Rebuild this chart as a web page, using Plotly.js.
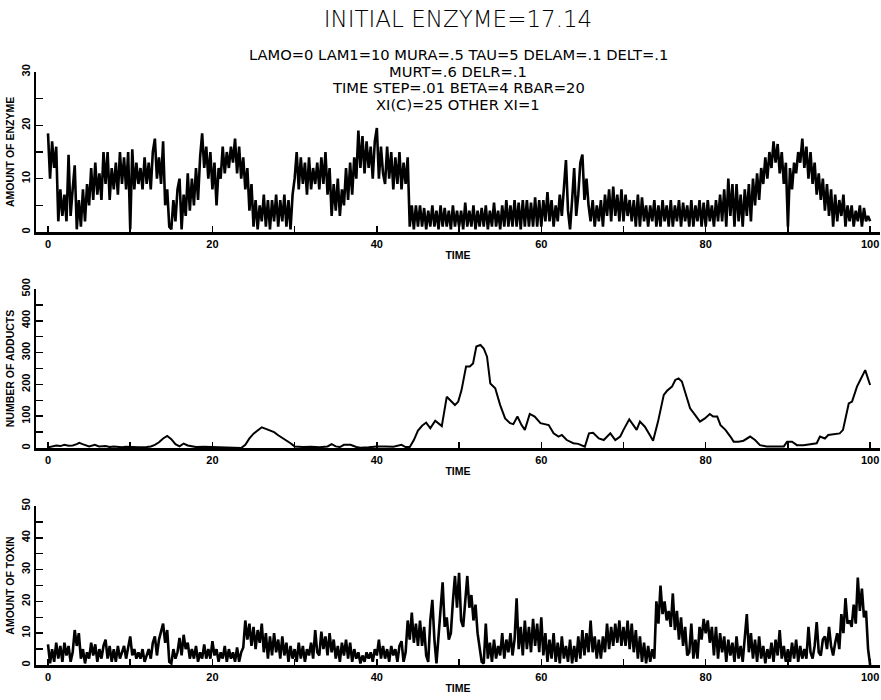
<!DOCTYPE html>
<html>
<head>
<meta charset="utf-8">
<script src="https://cdn.plot.ly/plotly-3.0.1.min.js"></script>
<style>html,body{margin:0;padding:0;background:#fff;}#chart{width:881px;height:700px;}</style>
</head>
<body>
<div id="chart"></div>
<script>
// ---------- DATA ----------
const timeStep = 0.25;   // sampling used for the two noisy traces (TIME units)

// Amount of enzyme, 4 readings per time unit (t = k, k+.25, k+.5, k+.75)
const enzyme = [
  18.5,10,17,12,   16,2,8,3,       7,2,14.5,3,     8,12.5,0.5,6,   1,8,2,9,
  5,12,6,13,       7,11,6,15,      9,15,6,12,      8,13,7,15,      9,14,8,15,
  0.5,15.5,8,13,   9,12,8,14,      9,13,8,15,      17.5,10,14,9,   17,5,8,1,
  0.5,6,2,8,       10,0.5,7,3,     11,4,10,5,      12,6,14,18.5,   12,16,10,15,
  8,13,5,12,       10,16,11,15,    12,16,13,17.5,  11,16,10,14,    8,12,4,9,
  1,6,0.5,5,       2,7,1,6,        0.5,6,2,7,      1,6,2,7,        1,6,0.5,7,
  10,15,8,14,      9,13,7,14,      8,12,9,13,      8,14,9,15,      7,12,3,9,
  4,10,3,8,        5,12,6,13,      7,14,10,19,     12,18,11,17,    12,16,10,17,
  19.5,10,16,11,   9,16,10,15,     8,14,9,15,      8,13,9,14,      1,5,0.5,5,
  1,5,1,4.5,       0.5,4,1,5,      1,4,0.5,5,      1,4.5,1,4,      0.5,5,1,4,
  1,4,0.5,5.5,     1,4,1,5,        0.5,4,1,4.5,    1,5,0.5,4,      1,5.5,1,4,
  0.5,5,1,6,       1,5,1,6,        1,5.5,0.5,6,    1,6,1,5.5,      1,6.5,1,6,
  1,6,2,7.5,       2,6,1,5,        2,7,3,8,        13.5,4,0.5,6,   12,3,7,13,
  14.5,6,10,5,     2,6,1,5,        2,6,1,7,        3,8,2,8.5,      3,7,2,8,
  2,7,3,6,         2,6,1,7,        1,6.5,2,5,      1,5,2,6,        1,5,1,6,
  2,5,1,6,         1,5,2,6,        1,5.5,2,5,      1,6,1,5,        2,6,1,5.5,
  1,6,2,5,         1,6,2,7,        2,8,1,10,       3,9,1,9,        2,7,1,8,
  3,9,2,10,        5,11,6,12,      9,14,10,15,     12,17,13,16.5,  11,15,9,13,
  1,12,8,13,       11,15,13,17.5,  12,16,10,15,    9,13,7,11,      6,10,4,9,
  3,8,1,7,         2,6,3,7,        1,5,2,5,        1,4,2,5,        1,4.5,2,3,
  2
];

// Amount of toxin, 4 readings per time unit
const toxin = [
  6.5,0.5,5,1,     7,2,6,1,        7,3,6,1,        4,11,6,10,      2,5,0.5,4,
  2,7,3,6.5,       1,5,2,6,        8,2,6,1,        5,1,6,2,        4,6,2,5,
  9,3,5,2,         4,2,5,1,        3,5,2,7,        9,3,8,10.5,     13,7,11,1,
  0.5,5,2,4,       8.5,3,9.5,5,    7,2,5,2,        6,1,4,2,        6.5,2,5,2,
  7.5,3,5,1,       4,2,6,1,        5,2,4,1,        5.5,1,4,5.5,    14,8,13,6,
  12,5,11,7,       13,4,10,2,      9,3,10,4,       8,2,9,3,        7,1,6,2,
  5,1,7,2,         6,1,5,3,        7,2,11,4,       3,10.5,5,9,     3,10,4,8,
  2,6,1,7,         3,8,2,7,        1,5,2,4,        0.5,3,1,4,      2,4,1,5,
  3,8,2,6,         2,5,1,6,        3,5,1,6,        7.5,1,4,14,     8,16.5,7,13,
  6,14,6,12,       3,1,14,20.5,    8,0.5,10,19,    26,12,15,8,     10,20,28,18,
  29,14,12,20,     28,18,22,14,    19,10,5,1,      0.5,13,2,7,     1,8,2,6,
  3,10,2,8,        4,10,3,8,       21,5,12,3,      14,5,12,4,      14.5,6,13,4,
  15,3,10,1,       8,2,10,1,       7,0.5,9,2,      6,1,8,0.5,      6,1,9,2,
  11,3,10,4,       14,4,9,2,       8,2,9,4,        13,5,12,6,      13,7,14,6,
  12,6,14,5,       13,4,11,2,      9,1,7,0.5,      6,1,5,2,        20,13,25,16,
  20,14,17,12,     22.5,11,17,8,   15,6,12,3,      4,13,2,8,       2,12,8,14.5,
  10,14,7,12,      3,12,2,10,      4,9,1,8,        3,7,1,9,        2,6,1,8,
  16,4,10,2,       8,1,9,2,        6,0.5,5,2,      7,1,8,3,        11,2,6,1,
  5,1,7,2,         8,1,6,2,        5,2,12,4,       2,6,13.5,4,     3,8,9,5,
  12,6,3,7,        10,5,16,10,     21,13,14,12,    19,13,27.5,17,  24,15,17,5,
  0
];

// Number of adducts (smooth trace): time / value pairs
const adductTime = [0,0.5,1,1.5,2,2.5,3,3.5,3.8,4.2,4.5,5,5.7,6.2,7,7.5,8,9,9.5,10,11,12,12.5,13,13.5,14,14.5,15,15.5,16,16.5,17,17.5,18,19,20,21,22,23,23.5,24,24.5,25,25.5,26,26.5,27,27.5,28,28.5,29,29.5,30,31,32,33,34,34.5,35,35.5,36,36.8,37.5,38,39,40,41,42,43,43.5,44,44.5,45,45.5,46,46.5,47.1,47.9,48.5,48.9,49.5,49.9,50.3,50.85,51.3,51.7,52.1,52.6,53.0,53.4,53.8,54.4,55.0,55.6,56.2,56.6,57.1,57.6,58.0,58.6,59.2,59.9,60.5,60.9,61.5,62.1,62.5,63.1,63.9,64.5,65.3,65.8,66.3,67.0,67.6,68.4,69.0,69.6,70.0,70.7,71.2,71.6,72.0,72.6,73.2,73.6,74.2,74.9,75.3,75.9,76.3,76.7,77.1,77.5,78.1,78.7,79.3,79.9,80.5,80.9,81.4,81.8,82.4,83.0,83.4,84.0,84.6,85.4,86.0,86.6,87.4,89.5,89.9,90.5,91.1,91.9,92.7,93.5,93.9,94.5,94.9,95.5,96.3,96.7,97.4,97.8,98.4,98.8,99.4,100];
const adducts = [2,5,8,6,10,7,8,12,16,12,10,5,10,5,6,3,5,2,4,3,2,3,5,10,18,30,38,28,12,5,14,8,5,3,4,3,2,3,2,0,10,30,45,55,65,60,55,50,40,32,25,15,5,3,4,2,5,12,5,3,10,10,3,1,2,5,5,4,10,3,3,25,55,70,80,62,86,69,161,151,135,146,182,256,256,266,319,324,313,287,203,188,135,93,78,75,99,72,57,107,99,78,75,72,46,36,41,25,15,13,4,46,48,30,25,46,25,36,57,90,72,57,83,67,41,23,83,167,180,193,214,219,209,172,125,104,83,93,107,99,99,72,57,36,20,20,23,36,25,9,5,5,20,20,9,9,13,15,36,30,41,44,46,57,140,146,193,214,245,198];

const xTickVals = [0,10,20,30,40,50,60,70,80,90,100];
const xTickText = ['0','','20','','40','','60','','80','','100'];
const enzTickVals = [0,5,10,15,20,25,30];
const enzTickText = ['0','','10','','20','','30'];
const addTickVals = [0,50,100,150,200,250,300,350,400,450,500];
const addTickText = ['0','','100','','200','','300','','400','','500'];
const toxTickVals = [0,5,10,15,20,25,30,35,40,45,50];
const toxTickText = ['0','','10','','20','','30','','40','','50'];

const titleText = 'INITIAL ENZYME=17.14';
const subtitleLines = [
  'LAMO=0 LAM1=10 MURA=.5 TAU=5 DELAM=.1 DELT=.1',
  'MURT=.6 DELR=.1',
  'TIME STEP=.01 BETA=4 RBAR=20',
  'XI(C)=25 OTHER XI=1'
];

// ---------- BUILD ----------
const tNoisy = enzyme.map((_, i) => i * timeStep);

const H = 700;
const boldFont = {family: 'Liberation Sans, Arial, sans-serif', size: 11, color: '#000', weight: 'bold'};
const titleFont = {family: 'Liberation Sans, Arial, sans-serif', size: 10.5, color: '#000', weight: 'bold'};

const traces = [
  {x: tNoisy, y: enzyme, xaxis: 'x', yaxis: 'y', type: 'scatter', mode: 'lines',
   line: {color: '#000', width: 2.6}, hoverinfo: 'skip'},
  {x: adductTime, y: adducts, xaxis: 'x2', yaxis: 'y2', type: 'scatter', mode: 'lines',
   line: {color: '#000', width: 2}, hoverinfo: 'skip'},
  {x: tNoisy, y: toxin, xaxis: 'x3', yaxis: 'y3', type: 'scatter', mode: 'lines',
   line: {color: '#000', width: 2.6}, hoverinfo: 'skip'}
];

function xAxis(anchor) {
  return {
    anchor: anchor, domain: [0, 1], range: [-1.46, 101.2],
    showline: true, linecolor: '#000', linewidth: 2.5,
    ticks: 'inside', ticklen: 6, tickwidth: 1.5, tickcolor: '#000',
    tickmode: 'array', tickvals: xTickVals, ticktext: xTickText,
    tickfont: boldFont, showgrid: false, zeroline: false,
    title: {text: 'TIME', font: titleFont, standoff: 3}
  };
}
function yAxis(anchor, domPx, range, tv, tt, label) {
  return {
    anchor: anchor, domain: [1 - domPx[1] / H, 1 - domPx[0] / H], range: range,
    showline: true, linecolor: '#000', linewidth: 2,
    ticks: 'inside', ticklen: 7, tickwidth: 1.5, tickcolor: '#000',
    tickmode: 'array', tickvals: tv, ticktext: tt, tickangle: -90,
    tickfont: boldFont, showgrid: false, zeroline: false,
    title: {text: label, font: titleFont, standoff: 3}
  };
}

const annotations = subtitleLines.map((s, i) => ({
  text: s, xref: 'paper', yref: 'paper', x: 0.5, y: 1 - (55 + i * 16.5) / H,
  xanchor: 'center', yanchor: 'middle', showarrow: false,
  font: {family: 'DejaVu Sans, sans-serif', size: 14.7, color: '#000'}
}));

const layout = {
  width: 881, height: 700,
  margin: {l: 36, r: 1, t: 0, b: 0, autoexpand: false},
  paper_bgcolor: '#fff', plot_bgcolor: '#fff',
  showlegend: false,
  title: {text: titleText, x: 0.5, xref: 'paper', y: 1 - 19 / H, yref: 'container',
          xanchor: 'center', yanchor: 'middle',
          font: {family: 'DejaVu Sans, sans-serif', size: 23, color: '#000', weight: 200}},
  xaxis: xAxis('y'),
  xaxis2: xAxis('y2'),
  xaxis3: xAxis('y3'),
  yaxis: yAxis('x', [72, 232], [0, 30], enzTickVals, enzTickText, 'AMOUNT OF ENZYME'),
  yaxis2: yAxis('x2', [289, 448], [0, 500], addTickVals, addTickText, 'NUMBER OF ADDUCTS'),
  yaxis3: yAxis('x3', [506, 665], [0, 50], toxTickVals, toxTickText, 'AMOUNT OF TOXIN'),
  annotations: annotations
};

Plotly.newPlot('chart', traces, layout, {staticPlot: true, displayModeBar: false});
</script>
</body>
</html>
